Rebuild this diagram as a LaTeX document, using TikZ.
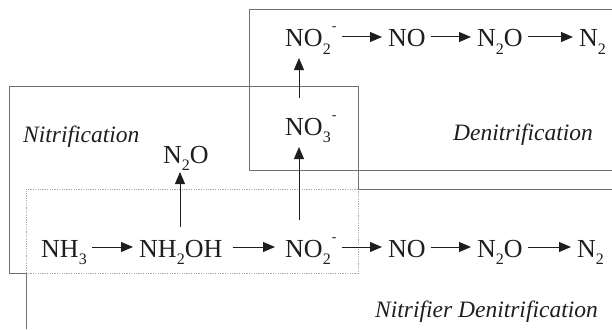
\documentclass[tikz,border=0pt]{standalone}
\usepackage{fontspec}
\setmainfont{Liberation Serif}
\usetikzlibrary{arrows.meta,calc}
\newcommand{\mysub}[1]{\raisebox{-7pt}{\fontsize{16}{16}\selectfont #1}}
\newcommand{\mysup}[1]{\kern1pt\raisebox{16pt}{\fontsize{14}{14}\selectfont #1}}
\definecolor{ink}{HTML}{1E1E1E}
\definecolor{boxline}{HTML}{707070}
\definecolor{dotline}{HTML}{A8A8A8}
\begin{document}
\begin{tikzpicture}[x=1pt,y=-1pt,
 chem/.style={anchor=base west, inner sep=0pt, text height=20pt, text depth=0pt, font=\fontsize{26}{26}\selectfont, text=ink},
 lbl/.style={anchor=base west, inner sep=0pt, font=\fontsize{23.5}{23.5}\selectfont\itshape, text=ink},
 arr/.style={draw=ink, line width=1pt, -{Triangle[length=12pt,width=10pt]}},
 harr/.style={arr, shorten <=5pt, shorten >=6pt},
 boxsolid/.style={draw=boxline, line width=0.9pt},
 boxdot/.style={draw=dotline, line width=0.9pt, dash pattern=on 1.2pt off 1.2pt}]
\useasboundingbox (0,0) rectangle (612,329);
% Denitrification box
\draw[boxsolid] (612,9) -- (249,9) -- (249,170) -- (612,170);
% Nitrification box
\draw[boxsolid] (26,273) -- (9,273) -- (9,86) -- (358,86) -- (358,189);
\draw[boxdot] (358,189) -- (358,273) -- (26,273);
% Nitrifier denitrification box
\draw[boxsolid] (358,189) -- (612,189);
\draw[boxdot] (358,189) -- (26,189) -- (26,273);
\draw[boxsolid] (26,273) -- (26,329);
% chemical species
\node[chem] (tNO2) at (285,47) {NO\mysub{2}\mysup{-}};
\node[chem] (tNO) at (388,47) {NO};
\node[chem] (tN2O) at (477,47) {N\mysub{2}O};
\node[chem] (tN2) at (579,47) {N\mysub{2}};
\node[chem] (NO3) at (285,135) {NO\mysub{3}\mysup{-}};
\node[chem] (lN2O) at (163,163) {N\mysub{2}O};
\node[chem] (NH3) at (41,257) {NH\mysub{3}};
\node[chem] (NH2OH) at (139,257) {NH\mysub{2}OH};
\node[chem] (bNO2) at (285,257) {NO\mysub{2}\mysup{-}};
\node[chem] (bNO) at (388,257) {NO};
\node[chem] (bN2O) at (477,257) {N\mysub{2}O};
\node[chem] (bN2) at (577,257) {N\mysub{2}};
% labels
\node[lbl] (nit) at (23,142) {Nitrification};
\node[lbl] (den) at (453,140) {Denitrification};
\node[lbl] (nd) at (375,317) {Nitrifier Denitrification};
% horizontal arrows
\draw[harr] (tNO2) -- (tNO);
\draw[harr] (tNO) -- (tN2O);
\draw[harr] (tN2O) -- (tN2);
\draw[harr] (NH3) -- (NH2OH);
\draw[harr, shorten <=10pt, shorten >=10pt] (NH2OH) -- (bNO2);
\draw[harr] (bNO2) -- (bNO);
\draw[harr] (bNO) -- (bN2O);
\draw[harr] (bN2O) -- (bN2);
% vertical arrows
\draw[arr] ($(NH2OH.base west)+(41,-30)$) -- ($(lN2O.base west)+(17,9)$);
\draw[arr] ($(bNO2.base west)+(14,-37)$) -- ($(NO3.base west)+(14,12)$);
\draw[arr] ($(NO3.base west)+(14,-37)$) -- ($(tNO2.base west)+(14,11)$);
\end{tikzpicture}
\end{document}
